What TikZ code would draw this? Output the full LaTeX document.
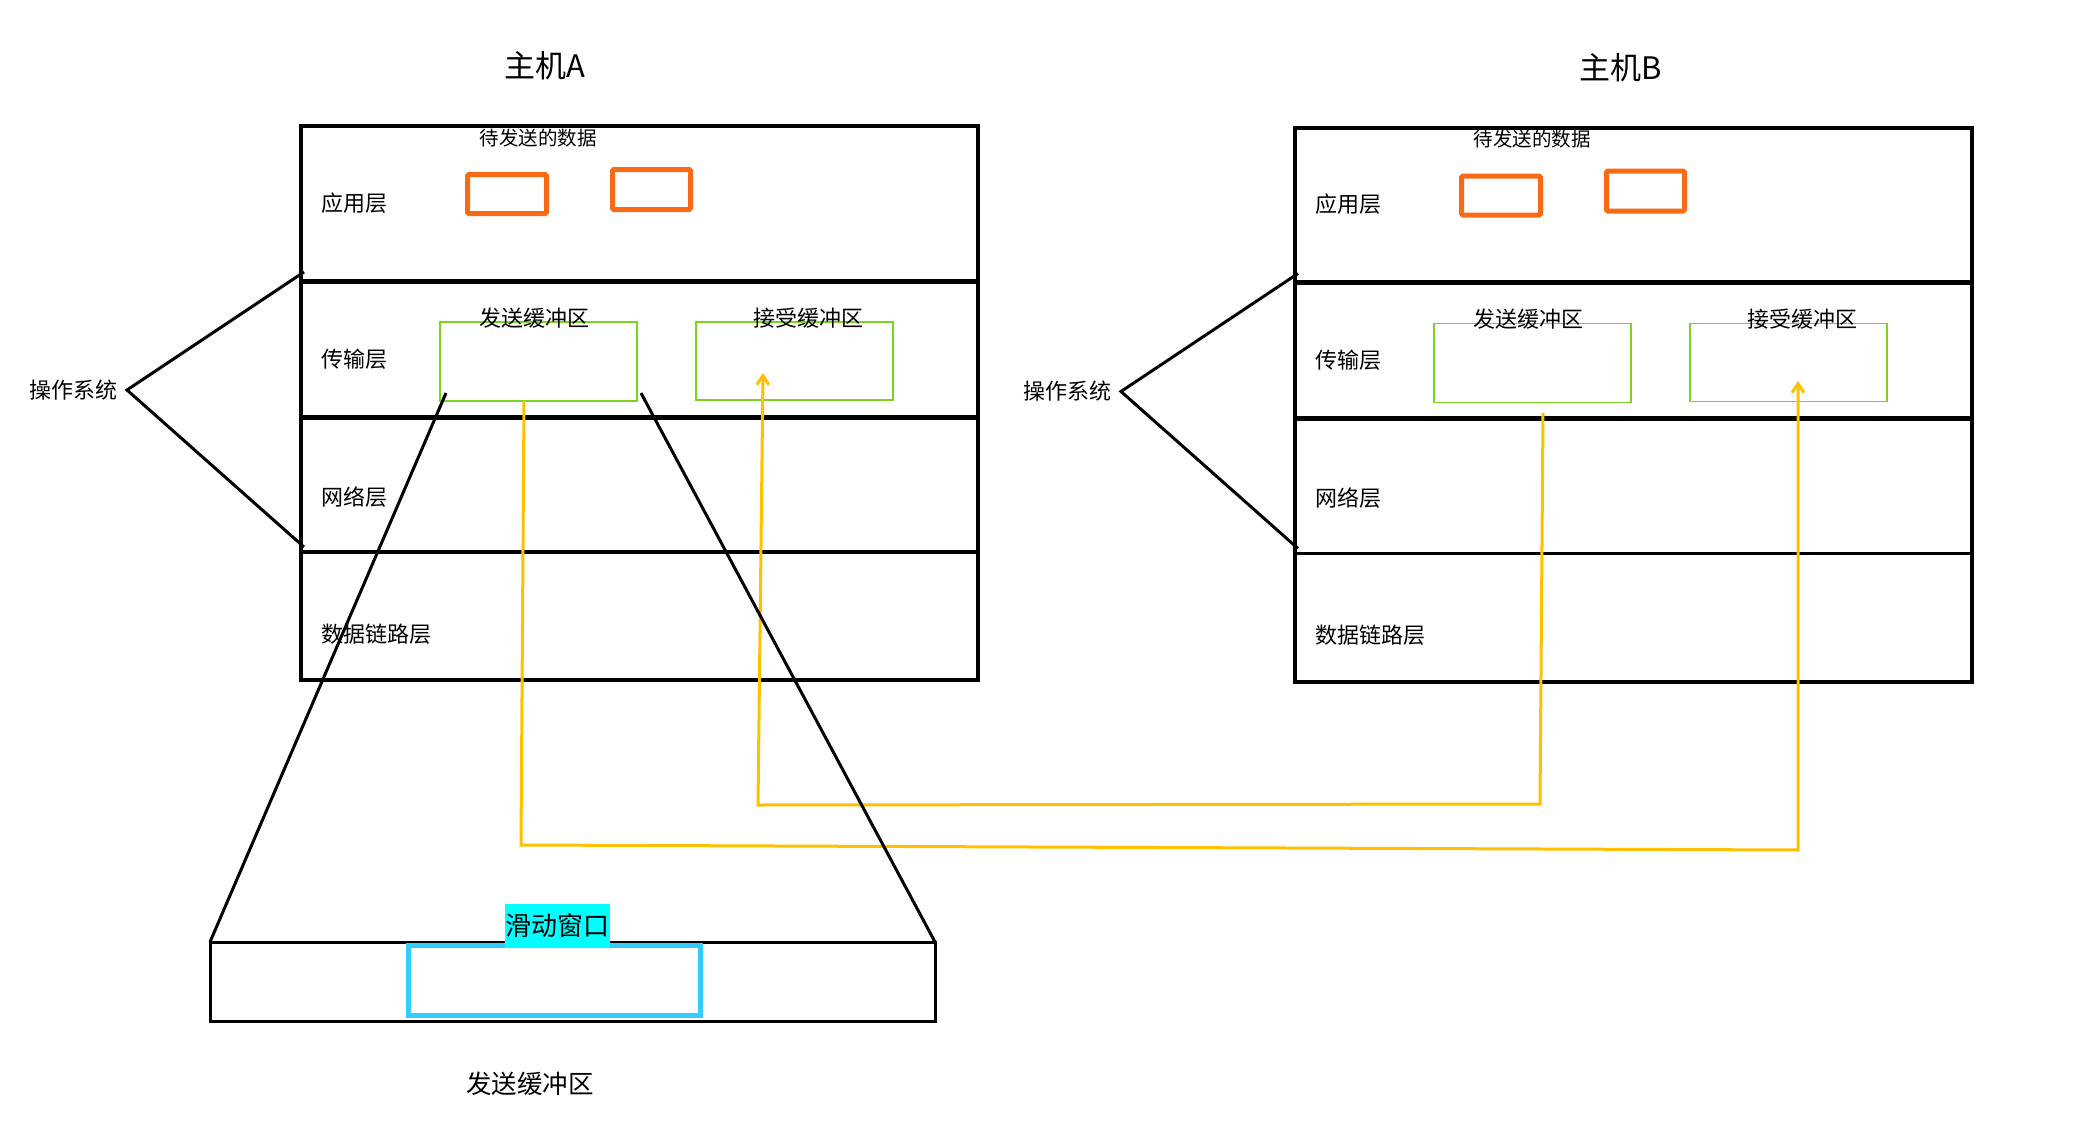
\documentclass[tikz,border=0pt]{standalone}
\usepackage{fontspec}
\setmainfont{Noto Sans CJK SC}
\usetikzlibrary{arrows.meta}
\definecolor{orangebox}{HTML}{F96A15}
\definecolor{greenbox}{HTML}{7ED321}
\definecolor{yel}{HTML}{FFC000}
\definecolor{winblue}{HTML}{33CCFF}
\definecolor{cyanbg}{HTML}{00FFFF}
\begin{document}
\begin{tikzpicture}[x=1pt,y=-1pt,
  every node/.style={inner sep=0pt, outer sep=0pt},
  hostframe/.style={draw=black, line width=4pt, minimum width=677pt, minimum height=554pt, anchor=north west},
  septhick/.style={line width=5pt},
  septhin/.style={line width=3.5pt},
  layerlabel/.style={anchor=west, font=\fontsize{22}{26}\selectfont},
  datalabel/.style={font=\fontsize{19.5}{23}\selectfont},
  titlelabel/.style={font=\fontsize{31}{36}\selectfont},
  oslabel/.style={font=\fontsize{22}{26}\selectfont},
  databox/.style={draw=orangebox, line width=5pt, rounded corners=1.5pt, anchor=north west},
  bufbox/.style={draw=greenbox, line width=1.8pt, anchor=north west},
  buflabel/.style={font=\fontsize{22}{26}\selectfont},
  osline/.style={line width=3pt, line join=miter},
  flow/.style={draw=yel, line width=3pt},
  tip/.style={-{Straight Barb[length=9pt,width=12pt,line width=3pt]}},
]
\useasboundingbox (0,0) rectangle (2081,1148);

\foreach \h/\dx/\dy/\tx in {A/0/0/545, B/994/1.5/627}{
\begin{scope}[shift={(\dx,\dy)}]
  \node[titlelabel] (title\h) at (\tx,66) {主机\h};
  \node[hostframe] (host\h) at (301,126) {};
  \draw[septhick] ([yshift=-155pt]host\h.north west) -- ([yshift=-155pt]host\h.north east);
  \draw[septhick] ([yshift=-291pt]host\h.north west) -- ([yshift=-291pt]host\h.north east);
  \draw[septhin] ([yshift=-426pt]host\h.north west) -- ([yshift=-426pt]host\h.north east);
  \node[layerlabel] (app\h) at (321,203) {应用层};
  \node[layerlabel] (trans\h) at (321,359) {传输层};
  \node[layerlabel] (net\h) at (321,497) {网络层};
  \node[layerlabel] (link\h) at (321,634) {数据链路层};
  \node[datalabel] (data\h) at (538,138) {待发送的数据};
  \node[databox, minimum width=79pt, minimum height=39pt] (dataone\h) at (467.5,174.5) {};
  \node[databox, minimum width=78pt, minimum height=40pt] (datatwo\h) at (612.5,169.5) {};
  \node[bufbox, minimum width=197pt, minimum height=79pt] (sendbuf\h) at (440,322) {};
  \node[bufbox, minimum width=197pt, minimum height=78pt] (recvbuf\h) at (696,322) {};
  \node[buflabel] (sendlbl\h) at (534,318) {发送缓冲区};
  \node[buflabel] (recvlbl\h) at (808,318) {接受缓冲区};
  \node[oslabel] (os\h) at (73,390) {操作系统};
  \coordinate (osapex\h) at (127,390);
  \coordinate (ostop\h) at (304,272);
  \coordinate (osbot\h) at (304,547);
  \draw[osline] (ostop\h) -- (osapex\h) -- (osbot\h);
\end{scope}
}

% yellow data flows
\coordinate (flowAstart) at (524,401);
\coordinate (flowAtip) at (1798,381);
\draw[flow, tip] (flowAstart) -- (521,845) -- (1798,850) -- (flowAtip);
\coordinate (flowBstart) at (1543,413);
\coordinate (flowBtip) at (763,373);
\draw[flow, tip] (flowBstart) -- (1540,804) -- (758,805) -- (flowBtip);

% zoomed send buffer
\node[draw=black, line width=3pt, minimum width=725pt, minimum height=79pt, anchor=north west] (bigbuf) at (210,942) {};
\coordinate (funnelL) at (446,393);
\coordinate (funnelR) at (641,393);
\draw[osline] (funnelL) -- (bigbuf.north west);
\draw[osline] (funnelR) -- (bigbuf.north east);
\node[draw=winblue, line width=5pt, minimum width=292pt, minimum height=70pt, anchor=north west] (window) at (408.5,945.5) {};
\node[fill=cyanbg, minimum width=105pt, minimum height=44pt, font=\fontsize{26}{30}\selectfont] (winlabel) at (557.5,926) {滑动窗口};
\node[font=\fontsize{25.5}{30}\selectfont] (biglabel) at (530,1084) {发送缓冲区};
\end{tikzpicture}
\end{document}
